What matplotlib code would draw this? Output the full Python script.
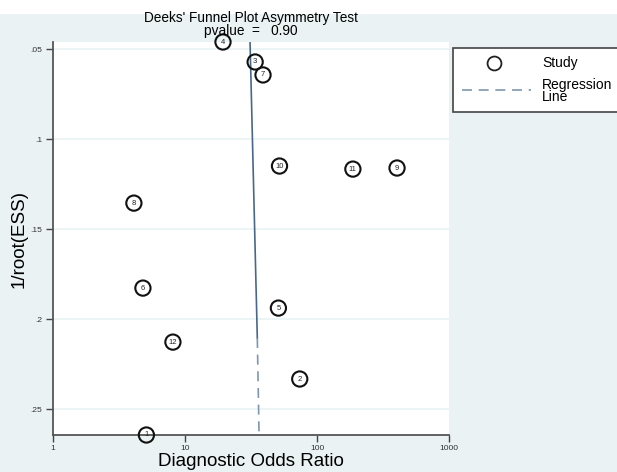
import matplotlib
matplotlib.use("Agg")
import matplotlib.pyplot as plt
from matplotlib.patches import Rectangle
from matplotlib.lines import Line2D

plt.rcParams['font.family'] = ['Liberation Sans', 'DejaVu Sans']

# study data
study_ids = [1, 2, 3, 4, 5, 6, 7, 8, 9, 10, 11, 12]
dor = [5.1, 74, 34, 19.4, 51, 4.8, 39, 4.1, 404, 52, 187, 8.1]
inv_root_ess = [0.2644, 0.2333, 0.0572, 0.0461, 0.1939, 0.1828,
                0.0644, 0.1356, 0.1161, 0.1150, 0.1167, 0.2128]

# regression line: solid part, then dashed part
reg_y = [0.0461, 0.2105, 0.2644]
reg_dor = [31.1, 35.3, 36.4]

xticks = [1, 10, 100, 1000]
xtick_labels = ['1', '10', '100', '1000']
yticks = [0.05, 0.1, 0.15, 0.2, 0.25]
ytick_labels = ['.05', '.1', '.15', '.2', '.25']

W, H = 617, 472
bg = '#eaf2f3'
fig = plt.figure(figsize=(W / 100, H / 100), dpi=100)
fig.patch.set_facecolor(bg)
fig.add_artist(Rectangle((0, 1 - 13 / H), 1, 13 / H, transform=fig.transFigure,
                         color='white', zorder=0))

ax = fig.add_axes([53 / W, (H - 435) / H, (449 - 53) / W, (435 - 42) / H])
ax.set_facecolor('white')
ax.set_xscale('log')
ax.set_xlim(1, 1000)
ax.set_ylim(0.2644, 0.0461)
ax.set_xticks(xticks)
ax.set_xticklabels(xtick_labels)
ax.set_yticks(yticks)
ax.set_yticklabels(ytick_labels)
ax.minorticks_off()
ax.tick_params(axis='both', labelsize=6, length=5, width=1, color='#444444',
               labelcolor='#333333', pad=3)
ax.tick_params(axis='x', pad=2.5)
for s in ['top', 'right']:
    ax.spines[s].set_visible(False)
for s in ['left', 'bottom']:
    ax.spines[s].set_color('#555555')
    ax.spines[s].set_linewidth(1.3)
for t in yticks:
    ax.axhline(t, color=bg, lw=1.2, zorder=0)

ax.plot(reg_dor[:2], reg_y[:2], color='#48688a', lw=1.2, zorder=2)
ax.plot(reg_dor[1:], reg_y[1:], color='#7f97ae', lw=1.2, ls=(0, (6, 4)), zorder=2)

ax.scatter(dor, inv_root_ess, s=120, facecolors='none', edgecolors='#111111',
           linewidths=1.5, zorder=3, clip_on=False)
for i, x, y in zip(study_ids, dor, inv_root_ess):
    ax.text(x, y, str(i), fontsize=5.5, ha='center', va='center', zorder=4,
            color='#222222')

ax.set_xlabel('Diagnostic Odds Ratio', fontsize=13.5, labelpad=0.5)
ax.set_ylabel('1/root(ESS)', fontsize=13.5, labelpad=2)

fig.text(251 / W, 1 - 18 / H, "Deeks' Funnel Plot Asymmetry Test", fontsize=9.8,
         ha='center', va='center')
fig.text(251 / W, 1 - 31 / H, "pvalue  =   0.90", fontsize=9.8,
         ha='center', va='center')

# legend box (runs past the right edge)
fig.add_artist(Rectangle((453 / W, 1 - 112 / H), 240 / W, 64 / H,
                         transform=fig.transFigure, facecolor='white',
                         edgecolor='#444444', lw=1.2, zorder=5))
fig.add_artist(Line2D([494 / W], [1 - 63 / H], marker='o', markersize=10,
                      markerfacecolor='none', markeredgecolor='#222222',
                      markeredgewidth=1.3, transform=fig.transFigure, zorder=6))
fig.add_artist(Line2D([462 / W, 531 / W], [1 - 90 / H, 1 - 90 / H],
                      color='#7f97ae', lw=1.2, ls=(0, (6, 4)),
                      transform=fig.transFigure, zorder=6))
fig.text(542 / W, 1 - 63 / H, 'Study', fontsize=10, ha='left', va='center', zorder=6)
fig.text(542 / W, 1 - 91 / H, 'Regression\nLine', fontsize=10, ha='left',
         va='center', linespacing=0.85, zorder=6)

fig.savefig('out.png', dpi=100, facecolor=fig.get_facecolor())
